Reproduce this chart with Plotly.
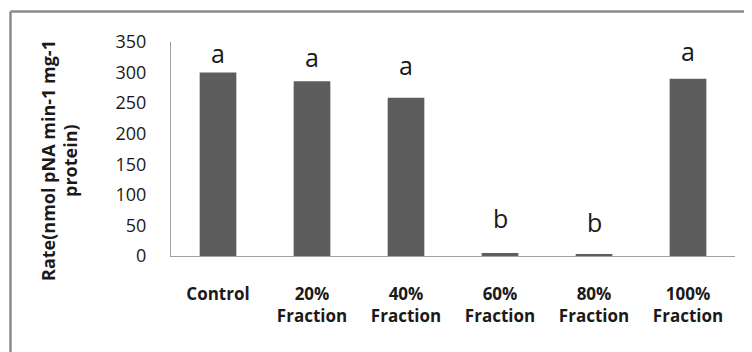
import plotly.graph_objects as go

categories = ["Control", "20%<br>Fraction", "40%<br>Fraction", "60%<br>Fraction",
              "80%<br>Fraction", "100%<br>Fraction"]
rates = [300, 286, 259, 5, 3, 290]
letters = ["a", "a", "a", "b", "b", "a"]
letter_y = [332, 325, 313, 62, 56, 336]
y_ticks = [0, 50, 100, 150, 200, 250, 300, 350]
y_title_lines = ["Rate(nmol pNA min-1 mg-1", "protein)"]

FONT = "Open Sans, Liberation Sans, sans-serif"
OFF = 8  # page body margin offset
W, H = 752 - OFF, 352 - OFF
L, R, T, B = 171 - OFF, 17, 42 - OFF, 96
PW, PH = W - L - R, H - T - B


def px_x(px):
    return (px - OFF - L) / PW


def px_y(py):
    return (H - B - (py - OFF)) / PH


fig = go.Figure()
fig.add_trace(go.Bar(
    x=categories, y=rates,
    marker=dict(color="#5d5d5d", line=dict(width=0)),
    width=0.39,
    hoverinfo="skip",
))

for cat, lab, ly in zip(categories, letters, letter_y):
    fig.add_annotation(x=cat, y=ly, text=lab, showarrow=False,
                       xref="x", yref="y", yanchor="middle",
                       font=dict(family=FONT, size=25, color="#1a1a1a"))

for txt, cx in zip(y_title_lines, [48, 70]):
    fig.add_annotation(x=px_x(cx), y=px_y(161), xref="paper", yref="paper",
                       text=txt, textangle=-90, showarrow=False,
                       xanchor="center", yanchor="middle",
                       font=dict(family=FONT, size=18, color="#1a1a1a", weight="bold"))

# outer frame (cropped on right and bottom in the original)
fig.add_shape(type="line", xref="paper", yref="paper",
              x0=px_x(10.5), x1=px_x(760), y0=px_y(11.5), y1=px_y(11.5),
              line=dict(color="#8a8a8a", width=2.5), layer="above")
fig.add_shape(type="line", xref="paper", yref="paper",
              x0=px_x(10.5), x1=px_x(10.5), y0=px_y(11.5), y1=px_y(360),
              line=dict(color="#8a8a8a", width=2.5), layer="above")

fig.update_layout(
    width=W, height=H,
    margin=dict(l=L, r=R, t=T, b=B, autoexpand=False),
    paper_bgcolor="white", plot_bgcolor="white",
    showlegend=False,
    font=dict(family=FONT, color="#1a1a1a"),
    xaxis=dict(
        automargin=False,
        showline=True, linecolor="#a0a0a0", linewidth=1.2,
        ticks="outside", ticklen=22, tickcolor="rgba(0,0,0,0)",
        tickfont=dict(family=FONT, size=17, color="#1a1a1a", weight="bold"),
        showgrid=False, zeroline=False,
    ),
    yaxis=dict(
        automargin=False,
        range=[0, 350], tickvals=y_ticks,
        showline=True, linecolor="#a0a0a0", linewidth=1.2,
        ticks="outside", ticklen=20, tickcolor="rgba(0,0,0,0)",
        tickfont=dict(family=FONT, size=18, color="#1a1a1a"),
        showgrid=False, zeroline=False,
    ),
)

fig.write_html("out.html")
